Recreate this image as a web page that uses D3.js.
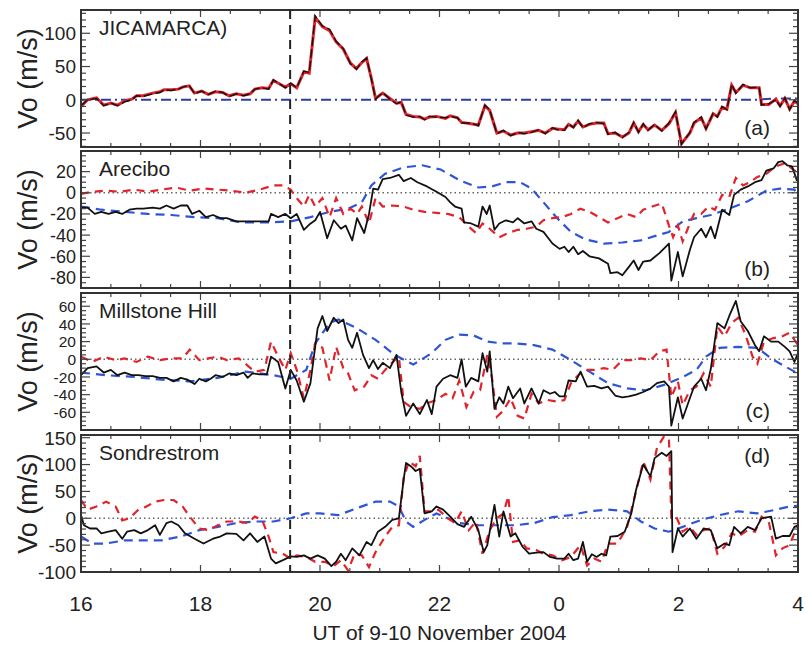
<!DOCTYPE html>
<html>
<head>
<meta charset="utf-8">
<script src="https://cdn.jsdelivr.net/npm/d3@7"></script>
<style>
  body { margin: 0; background: #fff; }
  svg { font-family: "Liberation Sans", Arial, Helvetica, sans-serif; }
</style>
</head>
<body>
<div id="chart"></div>
<script>
// window size
let width = 806;
let height = 645;

// hours are counted from 16 UT on 9 Nov, so 24 = 0 UT on 10 Nov
let xDomain = [16, 28];
let xMajor = [16, 18, 20, 22, 24, 26, 28];
let stormOnset = 19.5;

let panelNames = ["JICAMARCA)", "Arecibo", "Millstone Hill", "Sondrestrom"];
let panelTags = ["(a)", "(b)", "(c)", "(d)"];
let yDomains = [[-71, 135], [-90, 39.5], [-80, 75], [-100, 155]];
let yMajor = [
    [-50, 0, 50, 100],
    [-80, -60, -40, -20, 0, 20],
    [-60, -40, -20, 0, 20, 40, 60],
    [-100, -50, 0, 50, 100, 150],
];
let yMinorStep = [10, 5, 5, 10];
// the Millstone labels are packed tight, so they get a smaller font
let yLabelSize = [19, 18, 15.5, 19];

// (a) Jicamarca: observed (black), model (red), blue reference
let jicObs = [[16.00,-9],[16.11,0],[16.26,2],[16.38,-9],[16.50,-5],[16.61,-9],[16.73,-3],[16.85,0],[16.93,6],[17.04,5],[17.20,9],[17.32,11],[17.39,15],[17.51,14],[17.63,16],[17.70,19],[17.81,22],[17.90,9],[18.02,13],[18.13,8],[18.25,13],[18.37,11],[18.48,5],[18.60,9],[18.72,6],[18.83,9],[18.91,16],[19.03,18],[19.14,16],[19.22,30],[19.34,23],[19.42,18],[19.51,25],[19.61,18],[19.73,43],[19.82,41],[19.92,126],[20.04,111],[20.16,106],[20.27,88],[20.39,77],[20.51,54],[20.61,46],[20.70,57],[20.78,63],[20.86,31],[20.93,1],[21.05,11],[21.17,1],[21.28,-6],[21.36,-3],[21.44,-23],[21.56,-26],[21.67,-25],[21.75,-30],[21.83,-25],[21.95,-26],[22.10,-27],[22.18,-25],[22.30,-27],[22.37,-35],[22.53,-35],[22.65,-39],[22.76,-8],[22.84,-15],[22.96,-51],[23.07,-46],[23.19,-54],[23.31,-49],[23.42,-51],[23.54,-49],[23.66,-45],[23.77,-51],[23.89,-42],[23.97,-45],[24.09,-46],[24.16,-36],[24.24,-42],[24.32,-31],[24.40,-42],[24.51,-36],[24.63,-34],[24.75,-36],[24.82,-52],[24.94,-49],[25.06,-57],[25.17,-49],[25.25,-34],[25.33,-49],[25.41,-36],[25.49,-46],[25.60,-37],[25.72,-47],[25.84,-35],[25.95,-18],[26.05,-67],[26.19,-49],[26.26,-34],[26.38,-26],[26.46,-44],[26.58,-20],[26.65,-26],[26.73,-10],[26.81,-15],[26.89,23],[26.96,10],[27.08,23],[27.20,18],[27.35,19],[27.39,-8],[27.51,-6],[27.63,0],[27.70,-10],[27.78,3],[27.86,-15],[27.94,-1],[28.00,-5]];
let jicModel = [[16.00,-10],[16.11,0],[16.26,3],[16.38,-8],[16.50,-5],[16.61,-8],[16.73,-2],[16.85,1],[16.93,6],[17.04,6],[17.20,10],[17.32,12],[17.39,15],[17.51,15],[17.63,16],[17.70,19],[17.81,21],[17.90,10],[18.02,13],[18.13,8],[18.25,12],[18.37,11],[18.48,6],[18.60,9],[18.72,7],[18.83,9],[18.91,16],[19.03,18],[19.14,17],[19.22,29],[19.34,23],[19.42,19],[19.51,24],[19.61,18],[19.73,42],[19.82,40],[19.92,124],[20.04,110],[20.16,104],[20.27,87],[20.39,76],[20.51,55],[20.61,47],[20.70,56],[20.78,62],[20.86,32],[20.93,2],[21.05,10],[21.17,2],[21.28,-5],[21.36,-4],[21.44,-22],[21.56,-25],[21.67,-26],[21.75,-29],[21.83,-26],[21.95,-25],[22.10,-28],[22.18,-24],[22.30,-27],[22.37,-34],[22.53,-36],[22.65,-38],[22.76,-9],[22.84,-16],[22.96,-50],[23.07,-47],[23.19,-53],[23.31,-50],[23.42,-50],[23.54,-48],[23.66,-46],[23.77,-50],[23.89,-43],[23.97,-44],[24.09,-45],[24.16,-37],[24.24,-41],[24.32,-32],[24.40,-41],[24.51,-37],[24.63,-35],[24.75,-35],[24.82,-51],[24.94,-50],[25.06,-56],[25.17,-50],[25.25,-35],[25.33,-48],[25.41,-37],[25.49,-45],[25.60,-38],[25.72,-46],[25.84,-36],[25.95,-19],[26.05,-66],[26.19,-50],[26.26,-35],[26.38,-27],[26.46,-43],[26.58,-21],[26.65,-25],[26.73,-11],[26.81,-14],[26.89,22],[26.96,11],[27.08,22],[27.20,18],[27.35,18],[27.39,-7],[27.51,-7],[27.63,1],[27.70,-9],[27.78,2],[27.86,-14],[27.94,-2],[28.00,-6]];
let jicRef = [[16.00,0],[27.30,0],[27.60,2],[28.00,2]];

// (b) Arecibo
let areObs = [[16.00,-14],[16.11,-14],[16.23,-20],[16.34,-18],[16.46,-20],[16.58,-18],[16.69,-20],[16.81,-16],[16.93,-15],[17.04,-15],[17.20,-14],[17.32,-15],[17.43,-12],[17.55,-15],[17.67,-12],[17.78,-12],[17.86,-20],[17.98,-17],[18.09,-23],[18.21,-21],[18.33,-24],[18.44,-24],[18.60,-27],[18.83,-27],[19.14,-27],[19.18,-20],[19.30,-23],[19.42,-20],[19.51,-24],[19.61,-20],[19.73,-35],[19.82,-30],[19.92,-26],[20.00,-18],[20.12,-43],[20.23,-26],[20.35,-34],[20.43,-31],[20.54,-45],[20.62,-24],[20.74,-38],[20.82,-20],[20.89,4],[20.97,3],[21.05,13],[21.17,14],[21.32,17],[21.40,11],[21.52,14],[21.63,10],[21.79,6],[21.95,1],[22.10,-4],[22.18,-9],[22.26,-13],[22.37,-15],[22.41,-28],[22.53,-29],[22.65,-32],[22.72,-13],[22.79,-20],[22.84,-12],[22.92,-35],[23.00,-29],[23.11,-26],[23.23,-28],[23.31,-24],[23.42,-29],[23.54,-27],[23.62,-34],[23.74,-37],[23.81,-42],[23.89,-48],[24.01,-53],[24.09,-51],[24.16,-56],[24.24,-51],[24.32,-58],[24.40,-55],[24.51,-60],[24.67,-62],[24.82,-67],[24.86,-76],[24.98,-75],[25.06,-78],[25.17,-70],[25.25,-64],[25.33,-73],[25.41,-65],[25.53,-64],[25.68,-57],[25.84,-48],[25.88,-83],[25.99,-56],[26.07,-79],[26.19,-54],[26.26,-42],[26.38,-34],[26.46,-42],[26.54,-32],[26.61,-43],[26.73,-16],[26.85,-21],[26.93,-2],[27.04,3],[27.16,6],[27.28,10],[27.39,12],[27.47,21],[27.59,23],[27.67,29],[27.74,30],[27.82,26],[27.90,25],[27.98,12],[28.00,14]];
let areModel = [[16.00,-1],[16.19,1],[16.42,2],[16.65,1],[16.89,3],[17.12,1],[17.35,3],[17.59,5],[17.82,2],[18.05,4],[18.29,3],[18.52,2],[18.75,0],[18.99,3],[19.22,7],[19.38,7],[19.51,3],[19.61,-5],[19.73,-13],[19.82,-2],[19.92,-13],[20.04,-5],[20.16,-23],[20.27,-5],[20.39,-20],[20.51,-15],[20.62,-20],[20.70,-13],[20.82,-29],[20.93,-5],[21.05,-13],[21.21,-12],[21.40,-13],[21.56,-16],[21.75,-18],[21.95,-19],[22.14,-20],[22.33,-23],[22.49,-32],[22.61,-38],[22.72,-29],[22.84,-34],[23.00,-42],[23.15,-38],[23.31,-35],[23.46,-34],[23.62,-32],[23.74,-26],[23.89,-24],[24.05,-23],[24.20,-20],[24.36,-15],[24.51,-18],[24.67,-23],[24.82,-28],[24.98,-24],[25.14,-20],[25.29,-23],[25.41,-16],[25.56,-13],[25.72,-10],[25.84,-31],[25.91,-42],[25.99,-31],[26.07,-46],[26.19,-29],[26.26,-20],[26.38,-20],[26.50,-13],[26.61,-16],[26.73,-2],[26.85,-4],[26.96,14],[27.08,7],[27.20,10],[27.32,15],[27.47,18],[27.63,25],[27.78,28],[27.94,21],[28.00,20]];
let areRef = [[16.00,-13],[16.34,-16],[16.73,-18],[17.12,-20],[17.51,-21],[17.90,-23],[18.29,-24],[18.68,-28],[19.14,-28],[19.51,-27],[19.84,-23],[20.16,-18],[20.47,-15],[20.70,-9],[20.86,7],[21.09,18],[21.40,24],[21.71,26],[22.02,22],[22.33,12],[22.65,5],[22.88,6],[23.11,10],[23.35,10],[23.54,4],[23.74,-9],[23.97,-24],[24.20,-37],[24.44,-44],[24.75,-48],[25.06,-47],[25.37,-45],[25.60,-41],[25.84,-37],[26.07,-27],[26.30,-24],[26.54,-21],[26.85,-15],[27.16,-8],[27.47,2],[27.70,4],[27.94,3],[28.00,-4]];

// (c) Millstone Hill
let milObs = [[16.00,-18],[16.11,-10],[16.26,-8],[16.38,-15],[16.50,-12],[16.61,-18],[16.73,-15],[16.85,-18],[16.96,-18],[17.08,-19],[17.20,-19],[17.32,-21],[17.43,-21],[17.55,-25],[17.67,-21],[17.78,-23],[17.90,-28],[17.98,-22],[18.09,-25],[18.17,-22],[18.25,-18],[18.37,-20],[18.48,-16],[18.60,-18],[18.72,-15],[18.79,-21],[18.87,-16],[18.99,-17],[19.11,-17],[19.18,3],[19.30,-3],[19.42,-33],[19.51,-12],[19.61,-24],[19.73,-48],[19.84,-27],[19.96,35],[20.04,49],[20.12,32],[20.23,47],[20.31,41],[20.39,45],[20.47,22],[20.54,13],[20.62,30],[20.72,5],[20.82,-10],[20.89,-1],[20.97,-11],[21.05,-4],[21.17,-10],[21.28,5],[21.36,-37],[21.44,-64],[21.56,-50],[21.67,-62],[21.79,-46],[21.87,-62],[21.95,-31],[22.06,-22],[22.18,-18],[22.30,-21],[22.37,0],[22.44,-31],[22.53,-21],[22.65,-25],[22.72,7],[22.80,-14],[22.84,9],[22.92,-56],[23.00,-43],[23.07,-50],[23.15,-31],[23.23,-44],[23.35,-33],[23.42,-50],[23.54,-33],[23.66,-50],[23.74,-35],[23.85,-39],[23.93,-37],[24.01,-42],[24.09,-42],[24.16,-24],[24.28,-25],[24.36,-14],[24.47,-31],[24.59,-30],[24.71,-33],[24.82,-31],[24.94,-41],[25.06,-43],[25.17,-42],[25.29,-40],[25.41,-37],[25.53,-33],[25.64,-27],[25.76,-25],[25.84,-31],[25.88,-75],[25.99,-43],[26.07,-67],[26.19,-44],[26.26,-31],[26.38,-22],[26.46,-35],[26.54,-11],[26.65,41],[26.77,35],[26.85,49],[26.96,66],[27.04,43],[27.16,32],[27.28,16],[27.35,9],[27.43,26],[27.55,20],[27.67,20],[27.78,14],[27.86,9],[27.94,-3],[28.00,7]];
let milModel = [[16.00,3],[16.19,-3],[16.38,3],[16.58,-1],[16.73,1],[16.93,-3],[17.12,3],[17.32,-1],[17.51,1],[17.70,1],[17.82,11],[17.98,-1],[18.13,1],[18.29,3],[18.44,-1],[18.64,1],[18.75,-5],[18.91,-14],[19.07,-12],[19.18,20],[19.30,3],[19.42,-12],[19.51,7],[19.61,-12],[19.73,-44],[19.84,-12],[19.92,18],[20.04,13],[20.16,-24],[20.27,14],[20.39,-10],[20.47,-16],[20.58,-35],[20.74,-31],[20.86,-18],[20.97,-22],[21.09,-12],[21.25,-1],[21.32,3],[21.40,-48],[21.52,-54],[21.67,-56],[21.79,-50],[21.95,-46],[22.10,-39],[22.22,-44],[22.33,-24],[22.45,-54],[22.57,-37],[22.68,-35],[22.80,5],[22.88,-22],[22.96,-65],[23.07,-58],[23.19,-44],[23.31,-64],[23.42,-67],[23.54,-39],[23.66,-50],[23.81,-46],[23.97,-48],[24.09,-46],[24.20,-27],[24.32,-18],[24.44,-12],[24.59,-12],[24.75,-10],[24.90,-12],[25.06,-1],[25.21,-1],[25.37,1],[25.53,-1],[25.68,9],[25.80,11],[25.88,-43],[25.99,-25],[26.07,-52],[26.19,-35],[26.30,-31],[26.42,-16],[26.54,-31],[26.65,37],[26.77,26],[26.89,41],[27.00,47],[27.12,28],[27.24,3],[27.32,-5],[27.43,20],[27.59,24],[27.74,26],[27.86,30],[27.98,18],[28.00,20]];
let milRef = [[16.00,-15],[16.42,-18],[16.89,-20],[17.35,-23],[17.82,-25],[18.29,-21],[18.75,-14],[19.22,-18],[19.51,-22],[19.77,-12],[19.92,18],[20.16,41],[20.31,45],[20.62,35],[20.93,22],[21.25,5],[21.56,-6],[21.87,7],[22.10,22],[22.33,28],[22.57,27],[22.80,20],[23.04,18],[23.27,18],[23.58,16],[23.89,11],[24.20,-1],[24.51,-14],[24.82,-27],[25.14,-33],[25.45,-35],[25.76,-29],[26.07,-20],[26.30,-12],[26.46,3],[26.69,13],[27.00,14],[27.32,13],[27.55,1],[27.78,-8],[28.00,-16]];

// (d) Sondrestrom
let sonObs = [[16.00,6],[16.05,-13],[16.15,-19],[16.26,-19],[16.34,-28],[16.46,-25],[16.58,-22],[16.69,-38],[16.77,-25],[16.89,-22],[17.00,-28],[17.12,-22],[17.24,-13],[17.32,-31],[17.43,-9],[17.51,-6],[17.63,-13],[17.74,-28],[17.90,-38],[18.05,-47],[18.21,-38],[18.33,-34],[18.44,-28],[18.60,-29],[18.72,-41],[18.83,-28],[18.95,-44],[19.07,-34],[19.18,-75],[19.26,-84],[19.38,-78],[19.51,-71],[19.61,-72],[19.73,-69],[19.84,-75],[19.96,-69],[20.08,-75],[20.19,-89],[20.27,-81],[20.35,-66],[20.43,-78],[20.54,-56],[20.66,-69],[20.78,-44],[20.86,-50],[20.97,-25],[21.09,-16],[21.21,-3],[21.32,0],[21.40,72],[21.44,103],[21.52,97],[21.60,88],[21.67,92],[21.75,9],[21.87,13],[21.95,22],[22.06,16],[22.18,3],[22.30,-11],[22.41,-16],[22.53,3],[22.65,-22],[22.74,-63],[22.80,-50],[22.92,25],[23.00,-34],[23.07,13],[23.19,-34],[23.27,-28],[23.39,-53],[23.50,-66],[23.62,-64],[23.74,-63],[23.85,-72],[23.97,-75],[24.09,-75],[24.16,-66],[24.24,-78],[24.32,-75],[24.40,-44],[24.47,-81],[24.55,-67],[24.63,-72],[24.71,-66],[24.79,-69],[24.86,-34],[24.98,-33],[25.10,-25],[25.21,9],[25.29,53],[25.41,100],[25.53,78],[25.60,112],[25.72,122],[25.80,116],[25.88,125],[25.90,-63],[25.99,-19],[26.07,-34],[26.19,-19],[26.30,-38],[26.42,-19],[26.54,-22],[26.65,-56],[26.77,-47],[26.85,-50],[26.93,-16],[27.04,-28],[27.16,-16],[27.28,-22],[27.39,0],[27.55,3],[27.63,-38],[27.74,-33],[27.86,-33],[27.94,-16],[28.00,-13]];
let sonModel = [[16.00,34],[16.11,16],[16.26,22],[16.42,31],[16.58,22],[16.69,-4],[16.81,0],[16.96,16],[17.08,21],[17.24,31],[17.39,34],[17.55,34],[17.70,22],[17.82,3],[17.98,-19],[18.13,-22],[18.29,-13],[18.44,-6],[18.64,-6],[18.79,-9],[18.91,3],[19.03,-3],[19.14,-34],[19.22,-63],[19.38,-66],[19.51,-75],[19.61,-69],[19.77,-72],[19.92,-81],[20.08,-81],[20.23,-89],[20.35,-78],[20.47,-97],[20.58,-66],[20.70,-69],[20.82,-91],[20.93,-63],[21.09,-34],[21.21,-16],[21.32,-13],[21.40,75],[21.49,106],[21.60,97],[21.67,116],[21.75,13],[21.87,13],[21.98,16],[22.14,0],[22.26,-9],[22.37,13],[22.49,-22],[22.61,-6],[22.72,-66],[22.84,-22],[22.96,0],[23.07,9],[23.15,41],[23.23,-44],[23.35,-41],[23.46,-56],[23.62,-59],[23.74,-66],[23.89,-69],[24.05,-78],[24.20,-72],[24.36,-50],[24.47,-88],[24.59,-75],[24.71,-81],[24.82,-47],[24.98,-47],[25.14,-16],[25.29,50],[25.41,106],[25.53,72],[25.64,131],[25.76,153],[25.84,147],[25.88,3],[25.95,6],[26.07,-25],[26.19,-16],[26.30,-31],[26.42,-22],[26.54,-19],[26.65,-66],[26.77,-53],[26.89,-28],[27.00,-34],[27.16,-22],[27.28,-25],[27.39,3],[27.51,-6],[27.63,-69],[27.74,-56],[27.86,-50],[27.98,-16],[28.00,-13]];
let sonRef = [[16.00,-34],[16.19,-47],[16.42,-47],[16.73,-41],[17.04,-41],[17.35,-41],[17.67,-34],[17.98,-22],[18.29,-16],[18.60,-9],[18.91,-6],[19.22,-6],[19.51,0],[19.77,9],[20.00,9],[20.31,6],[20.62,19],[20.93,31],[21.17,31],[21.32,22],[21.44,-6],[21.56,-16],[21.75,-3],[21.95,9],[22.14,0],[22.33,-9],[22.65,-13],[22.96,-13],[23.27,-13],[23.58,-9],[23.89,2],[24.20,6],[24.51,13],[24.82,16],[25.14,13],[25.37,-6],[25.60,-19],[25.84,-25],[26.07,-16],[26.38,-3],[26.69,6],[27.00,13],[27.32,9],[27.63,16],[27.86,22],[28.00,23]];

let obsSeries = [jicObs, areObs, milObs, sonObs];
let modelSeries = [jicModel, areModel, milModel, sonModel];
let refSeries = [jicRef, areRef, milRef, sonRef];

// layout
let plotLeft = 81, plotRight = 798;
let panelTops = [10, 151, 293, 435];
let panelHeight = 137;

let svg = d3.select('#chart').append('svg')
    .attr('width', width).attr('height', height);
let defs = svg.append('defs');

let x = d3.scaleLinear().domain(xDomain).range([plotLeft, plotRight]);
let xMinor = d3.range(16, 28.01, 0.5);

function hourLabel(h) {
    return String(h % 24);
}

function drawPanel(i) {
    let top = panelTops[i];
    let bottom = top + panelHeight;
    let y = d3.scaleLinear().domain(yDomains[i]).range([bottom, top]);
    let g = svg.append('g').classed('panel', true);

    let clipId = 'clip-' + i;
    defs.append('clipPath').attr('id', clipId)
        .append('rect')
        .attr('x', plotLeft).attr('y', top)
        .attr('width', plotRight - plotLeft).attr('height', panelHeight);

    let plot = g.append('g').attr('clip-path', `url(#${clipId})`);
    let line = d3.line().x(d => x(d[0])).y(d => y(d[1]));

    if (i > 0) {
        // dotted zero line
        plot.append('line')
            .attr('x1', plotLeft).attr('x2', plotRight)
            .attr('y1', y(0)).attr('y2', y(0))
            .attr('stroke', '#666')
            .attr('stroke-width', 1.5)
            .attr('stroke-dasharray', '1.5,3');
        plot.append('path').datum(refSeries[i])
            .attr('d', line)
            .attr('fill', 'none')
            .attr('stroke', '#2f55d4')
            .attr('stroke-width', 2.2)
            .attr('stroke-dasharray', '9,6');
        plot.append('path').datum(modelSeries[i])
            .attr('d', line)
            .attr('fill', 'none')
            .attr('stroke', '#e2232b')
            .attr('stroke-width', 2.2)
            .attr('stroke-dasharray', '8,6');
        plot.append('path').datum(obsSeries[i])
            .attr('d', line)
            .attr('fill', 'none')
            .attr('stroke', '#111')
            .attr('stroke-width', 1.8)
            .attr('stroke-linejoin', 'round');
    } else {
        plot.append('path').datum(refSeries[i])
            .attr('d', line)
            .attr('fill', 'none')
            .attr('stroke', '#2b3fa6')
            .attr('stroke-width', 2)
            .attr('stroke-dasharray', '10,4,2,4');
        plot.append('path').datum(modelSeries[i])
            .attr('d', line)
            .attr('fill', 'none')
            .attr('stroke', '#e2232b')
            .attr('stroke-width', 3);
        plot.append('path').datum(obsSeries[i])
            .attr('d', line)
            .attr('fill', 'none')
            .attr('stroke', '#111')
            .attr('stroke-width', 1.4)
            .attr('stroke-dasharray', '9,3');
    }

    // y ticks, inward on both sides
    let minor = d3.range(Math.ceil(yDomains[i][0] / yMinorStep[i]) * yMinorStep[i],
        yDomains[i][1] + 0.01, yMinorStep[i]);
    let ticks = g.append('g').attr('stroke', '#444').attr('stroke-width', 1.2);
    for (let v of minor) {
        let major = yMajor[i].includes(v);
        let len = major ? 9 : 5;
        ticks.append('line')
            .attr('x1', plotLeft).attr('x2', plotLeft + len)
            .attr('y1', y(v)).attr('y2', y(v));
        ticks.append('line')
            .attr('x1', plotRight).attr('x2', plotRight - len)
            .attr('y1', y(v)).attr('y2', y(v));
    }
    for (let h of xMinor) {
        let len = xMajor.includes(h) ? 7 : 4;
        ticks.append('line')
            .attr('x1', x(h)).attr('x2', x(h))
            .attr('y1', top).attr('y2', top + len);
        ticks.append('line')
            .attr('x1', x(h)).attr('x2', x(h))
            .attr('y1', bottom).attr('y2', bottom - len);
    }

    g.append('g').selectAll('text')
        .data(yMajor[i])
        .enter().append('text')
        .attr('x', plotLeft - 5)
        .attr('y', d => y(d))
        .attr('dy', '0.36em')
        .attr('text-anchor', 'end')
        .attr('font-size', yLabelSize[i])
        .attr('fill', '#222')
        .text(d => d);

    g.append('text')
        .attr('transform', `translate(37, ${top + panelHeight / 2}) rotate(-90)`)
        .attr('text-anchor', 'middle')
        .attr('font-size', 27)
        .attr('fill', '#222')
        .text('Vo (m/s)');

    g.append('text')
        .attr('x', plotLeft + 18).attr('y', top + 25)
        .attr('font-size', 21)
        .attr('fill', '#222')
        .text(panelNames[i]);

    // panel tag sits bottom right, except (d) which is top right
    let tagY = i === 3 ? top + 28 : bottom - 12;
    g.append('text')
        .attr('x', plotRight - 28).attr('y', tagY)
        .attr('text-anchor', 'end')
        .attr('font-size', 21)
        .attr('fill', '#222')
        .text(panelTags[i]);

    g.append('rect')
        .attr('x', plotLeft).attr('y', top)
        .attr('width', plotRight - plotLeft).attr('height', panelHeight)
        .attr('fill', 'none')
        .attr('stroke', '#333')
        .attr('stroke-width', 2);

    return g;
}

for (let i = 0; i < panelNames.length; i++) {
    drawPanel(i);
}

// storm onset marker through all panels
svg.append('line')
    .attr('x1', x(stormOnset)).attr('x2', x(stormOnset))
    .attr('y1', panelTops[0]).attr('y2', panelTops[3] + panelHeight)
    .attr('stroke', '#222')
    .attr('stroke-width', 2)
    .attr('stroke-dasharray', '9,6');

let lastBottom = panelTops[3] + panelHeight;
svg.append('g').selectAll('text')
    .data(xMajor)
    .enter().append('text')
    .attr('x', d => x(d))
    .attr('y', lastBottom + 39)
    .attr('text-anchor', 'middle')
    .attr('font-size', 21)
    .attr('fill', '#222')
    .text(hourLabel);

svg.append('text')
    .attr('x', (plotLeft + plotRight) / 2)
    .attr('y', lastBottom + 68)
    .attr('text-anchor', 'middle')
    .attr('font-size', 21)
    .attr('fill', '#222')
    .text('UT of 9-10 November 2004');
</script>
</body>
</html>
